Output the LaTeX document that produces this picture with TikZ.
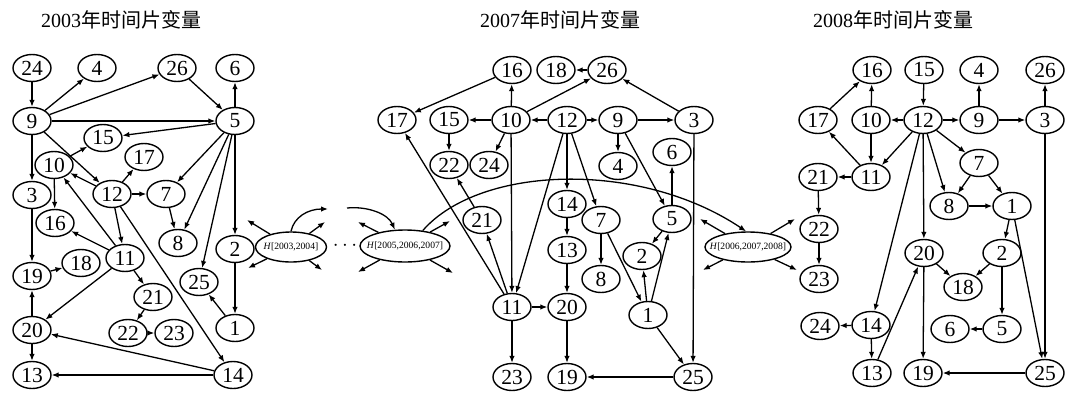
\documentclass[tikz,border=0pt]{standalone}
\usepackage{fontspec}
\setmainfont{Liberation Serif}
\newfontfamily\cjk{Noto Sans CJK SC}
\usetikzlibrary{arrows.meta,shapes.geometric}
\begin{document}
\begin{tikzpicture}[x=1pt,y=-1pt,
  v/.style={draw, ellipse, line width=1.4pt, minimum width=38pt, minimum height=27pt, inner sep=0pt, font=\fontsize{21.5}{21.5}\selectfont},
  hv/.style={draw, ellipse, line width=1.4pt, inner xsep=-16pt, inner ysep=0pt, font=\fontsize{9.6}{10}\selectfont},
  e/.style={line width=1.3pt, -{Latex[length=7pt,width=5.5pt]}},
  ttl/.style={font=\fontsize{20}{20}\selectfont, inner sep=0pt}]
\useasboundingbox (0,0) rectangle (1066,394);
% titles
\node[ttl] (t1) at (121,20) {2003{\cjk 年时间片变量}};
\node[ttl] (t2) at (560,20) {2007{\cjk 年时间片变量}};
\node[ttl] (t3) at (893,20) {2008{\cjk 年时间片变量}};
% ---------- 2003 ----------
\foreach \n/\x/\y in {24/32/68,4/97/68,26/177/68,6/235/68,9/32/121,5/235/121,15/103/138,17/144/157,10/54/165,3/32/195,12/112/194,7/166/194,16/55/223,8/178/243,2/235/249,11/125/258,18/81/263,19/32/276,25/199/282,21/153/297,20/32/330,22/128/333,23/174/333,1/235/328,13/32/375,14/233/375}
  \node[v] (a\n) at (\x,\y) {\n};
\foreach \s/\t in {24/9,9/4,9/26,26/5,5/6,9/5,5/15,9/3,9/12,10/15,12/17,12/10,12/7,5/7,10/16,3/19,7/8,5/8,5/25,5/2,2/1,1/25,11/16,11/10,12/11,12/14,19/18,11/21,11/20,21/22,22/23,20/19,20/13,14/20,14/13}
  \draw[e] (a\s) -- (a\t);
% ---------- 2007 ----------
\foreach \n/\x/\y in {16/512/70,18/556/70,26/607/70,17/397/120,15/449/120,10/511/120,12/567/120,9/618/120,3/694/120,22/449/165,24/489/165,4/618/166,6/672/152,14/567/204,21/482/220,7/601/220,5/672/219,13/567/250,2/642/256,8/601/279,11/512/307,20/567/307,1/648/315,23/512/377,19/567/377,25/693/377}
  \node[v] (b\n) at (\x,\y) {\n};
\foreach \s/\t in {16/17,26/18,10/26,3/26,10/16,10/15,12/10,12/9,9/3,15/22,10/24,9/4,9/5,5/6,12/14,12/7,12/11,10/11,11/17,11/21,21/22,14/13,13/20,11/20,11/23,20/19,25/19,7/8,7/1,1/2,1/5,5/2,1/25,3/25}
  \draw[e] (b\s) -- (b\t);
% ---------- 2008 ----------
\foreach \n/\x/\y in {16/872/70,15/924/70,4/979/70,26/1045/70,17/818/120,10/871/120,12/923/120,9/979/120,3/1045/120,7/979/163,21/818/177,11/871/177,8/949/206,1/1012/206,22/819/229,20/924/253,2/1002/253,23/819/279,18/963/287,24/820/326,14/871/325,6/950/329,5/1002/329,13/872/373,19/923/373,25/1045/373}
  \node[v] (c\n) at (\x,\y) {\n};
\foreach \s/\t in {15/12,12/10,12/9,9/4,9/3,3/26,10/16,17/16,10/11,12/11,11/17,11/21,21/22,22/23,12/7,12/8,7/8,7/1,8/1,12/14,12/20,3/25,1/2,1/25,20/18,2/18,2/5,5/6,14/24,14/13,13/20,20/19,25/19}
  \draw[e] (c\s) -- (c\t);
% ---------- H nodes ----------
\node[hv, minimum width=71pt, minimum height=30pt] (h1) at (291,247) {\textit{H}[2003,2004]};
\node[hv, minimum width=90pt, minimum height=32pt] (h2) at (405,246) {\textit{H}[2005,2006,2007]};
\node[hv, minimum width=86pt, minimum height=30pt] (h3) at (748,247) {\textit{H}[2006,2007,2008]};
\node[font=\fontsize{20}{20}\selectfont, inner sep=0pt] (dots) at (345,246) {$\cdots$};
\coordinate (h1a) at (247,220); \coordinate (h1b) at (248,268);
\coordinate (h1c) at (325,222); \coordinate (h1d) at (322,270);
\coordinate (h1e) at (328,209);
\coordinate (h2s) at (347,208);
\coordinate (h2a) at (358,222); \coordinate (h2b) at (358,272);
\coordinate (h2c) at (450,221); \coordinate (h2d) at (453,273);
\coordinate (h3a) at (700,219); \coordinate (h3b) at (703,270);
\coordinate (h3c) at (795,219); \coordinate (h3d) at (797,270);
\foreach \t in {h1a,h1b,h1c,h1d} \draw[e] (h1) -- (\t);
\foreach \t in {h2a,h2b,h2c,h2d} \draw[e] (h2) -- (\t);
\foreach \t in {h3a,h3b,h3c,h3d} \draw[e] (h3) -- (\t);
\draw[e] (h1.north) .. controls (294,217) and (308,209) .. (h1e);
\draw[e] (h2s) .. controls (368,206) and (388,214) .. (h2.122);
\draw[e] (h2.41) .. controls (480,165) and (640,160) .. (h3.97);
\end{tikzpicture}
\end{document}
